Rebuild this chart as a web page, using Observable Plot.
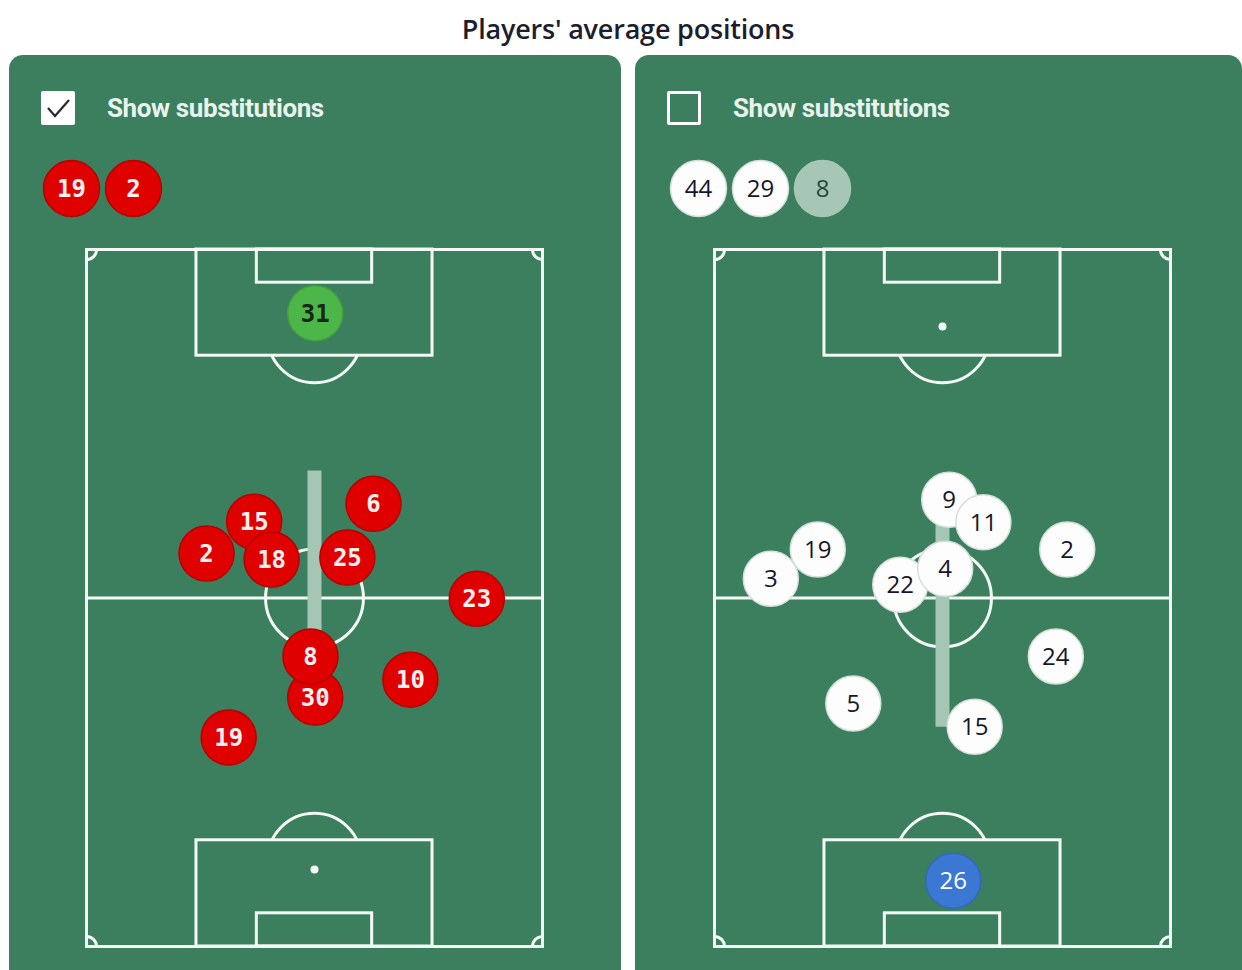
<!DOCTYPE html>
<html><head><meta charset="utf-8">
<script src="https://cdn.jsdelivr.net/npm/d3@7"></script>
<script src="https://cdn.jsdelivr.net/npm/@observablehq/plot@0.6"></script>
<style>
html,body{margin:0;padding:0;background:#fff;width:1242px;height:970px;overflow:hidden;position:relative;}
#title{position:absolute;left:0;width:1256px;top:10px;text-align:center;font:600 27px "Open Sans", sans-serif;color:#1c1d2e;letter-spacing:-0.2px;}
.panel{position:absolute;top:55px;height:940px;background:#3b7f5f;border-radius:14px;overflow:hidden;}
.cb{position:absolute;left:32px;top:36px;width:34px;height:34px;box-sizing:border-box;border-radius:2px;}
.lbl{position:absolute;left:98px;top:38px;line-height:34px;font:700 26px Roboto, sans-serif;color:#e9f3ee;letter-spacing:-0.4px;}
.subs{position:absolute;left:0;top:100px;}
.pitch{position:absolute;left:0;top:170px;}
</style></head>
<body>
<div id="title">Players' average positions</div>
<div class="panel" id="left" style="left:9px;width:612px;">
  <div class="cb" style="background:#fff;">
    <svg width="34" height="34"><path d="M7 17 L14 25 L28 9" fill="none" stroke="#2b2b2b" stroke-width="2.2"/></svg>
  </div>
  <div class="lbl">Show substitutions</div>
</div>
<div class="panel" id="right" style="left:635px;width:607px;">
  <div class="cb" style="border:3px solid #fff;"></div>
  <div class="lbl">Show substitutions</div>
</div>
<script>
// ---- data ----
const PITCH_W = 68, PITCH_L = 105;

// Left team (red), keeper 31
const leftNumbers = ["31","6","15","2","18","25","23","30","8","10","19"];
const leftX       = [34.1, 42.8, 25.0, 17.9, 27.6, 38.9, 58.2, 34.1, 33.4, 48.3, 21.2];
const leftY       = [ 9.6, 38.3, 41.0, 45.8, 46.7, 46.4, 52.6, 67.5, 61.3, 64.8, 73.5];
const leftKeeper  = "31";
const leftSubs    = ["19","2"];
const leftArrow   = {x: 34, tail: 33.3, head: 67.5};

// Right team (white), keeper 26
const rightNumbers = ["9","11","19","3","2","22","4","24","5","15","26"];
const rightX       = [35.0, 40.1, 15.4,  8.4, 52.6, 27.7, 34.4, 50.9, 20.7, 38.8, 35.6];
const rightY       = [37.7, 41.1, 45.2, 49.6, 45.2, 50.5, 48.1, 61.3, 68.4, 71.9, 95.1];
const rightKeeper  = "26";
const rightSubs    = ["44","29","8"];
const rightSubsDim = ["8"];
const rightArrow   = {x: 34, tail: 71.9, head: 38.5};

// pitch geometry (metres)
const penaltyBoxes = [{x1:16.4, x2:51.6, y1:0, y2:16}, {x1:16.4, x2:51.6, y1:89, y2:105}];
const goalAreas    = [{x1:25.4, x2:42.6, y1:0, y2:5}, {x1:25.4, x2:42.6, y1:100, y2:105}];
const penaltyArcs  = [{x:34, y:13}, {x:34, y:92}];
const spots        = [{x:34, y:11.6}, {x:34, y:93.4}];
const corners      = [{x:0,y:0},{x:PITCH_W,y:0},{x:0,y:PITCH_L},{x:PITCH_W,y:PITCH_L}];
const centre       = [{x:34, y:52.5}];
const CENTRE_R = 7.3, ARC_R = 7, CORNER_R = 1.5;

const GREEN = "#3b7f5f", LINE = "#f3faf6", BAR = "#a5c6b5";
const RED = "#df0000", RED_STROKE = "#b80000";
const LEFT_FONT = "'DejaVu Sans Mono', monospace";
const RIGHT_FONT = "'Open Sans', sans-serif";

function team(numbers, xs, ys) {
  return numbers.map((n, i) => ({n, x: xs[i], y: ys[i]}));
}

function pitchPlot({players, keeper, arrow, width, marginLeft, marginRight, side}) {
  const height = 750, marginTop = 24, marginBottom = 29;
  const pxPerM = (width - marginLeft - marginRight) / PITCH_W;
  const isLeft = side === "left";
  const fillOf = d => d.n === keeper ? (isLeft ? "#4db648" : "#3a78d4") : (isLeft ? RED : "#fdfdfd");
  const strokeOf = d => d.n === keeper ? (isLeft ? "#43a03f" : "#3169bd") : (isLeft ? RED_STROKE : "#d5e0da");
  const textOf = d => d.n === keeper ? (isLeft ? "#17261a" : "#ffffff") : (isLeft ? "#fff0f0" : "#16162b");
  return Plot.plot({
    width, height, marginTop, marginBottom, marginLeft, marginRight,
    x: {domain: [0, PITCH_W], axis: null},
    y: {domain: [0, PITCH_L], reverse: true, axis: null},
    style: {background: "transparent", overflow: "visible"},
    marks: [
      Plot.ruleY([PITCH_L / 2], {x1: 0, x2: PITCH_W, stroke: LINE, strokeWidth: 3}),
      Plot.dot(centre, {x: "x", y: "y", r: CENTRE_R * pxPerM, stroke: LINE, strokeWidth: 3, fill: "none"}),
      Plot.dot(penaltyArcs, {x: "x", y: "y", r: ARC_R * pxPerM, stroke: LINE, strokeWidth: 3, fill: "none"}),
      Plot.rect(penaltyBoxes, {x1: "x1", x2: "x2", y1: "y1", y2: "y2", fill: GREEN, stroke: LINE, strokeWidth: 3}),
      Plot.rect(goalAreas, {x1: "x1", x2: "x2", y1: "y1", y2: "y2", fill: "none", stroke: LINE, strokeWidth: 3}),
      Plot.dot(spots, {x: "x", y: "y", r: 4, fill: LINE}),
      Plot.dot(corners, {x: "x", y: "y", r: CORNER_R * pxPerM, stroke: LINE, strokeWidth: 3, fill: "none", clip: true}),
      Plot.frame({stroke: LINE, strokeWidth: 3}),
      Plot.link([arrow], {x1: "x", x2: "x", y1: "tail", y2: d => d.head + (d.head > d.tail ? -2 : 2), stroke: BAR, strokeWidth: 14, strokeLinecap: "butt"}),
      Plot.dot([arrow], {x: "x", y: "head", symbol: "triangle", r: 13, fill: BAR, rotate: d => d.head > d.tail ? 180 : 0}),
      Plot.dot(players, {x: "x", y: "y", r: 27.5, fill: fillOf, stroke: strokeOf, strokeWidth: 1.5}),
      Plot.text(players, {x: "x", y: "y", text: "n", fill: textOf, fontSize: 24,
        fontWeight: isLeft ? 700 : 500, fontFamily: isLeft ? LEFT_FONT : RIGHT_FONT, dy: 1})
    ]
  });
}

function subsPlot(subs, side, dim = []) {
  const isLeft = side === "left";
  const data = subs.map(n => ({n}));
  return Plot.plot({
    width: 320, height: 66, margin: 0,
    x: {type: "point", domain: subs, range: [62, 62 + 62.5 * (subs.length - 1)], padding: 0, axis: null},
    style: {background: "transparent", overflow: "visible"},
    marks: [
      Plot.dot(data, {x: "n", r: 28,
        fill: d => isLeft ? RED : (dim.includes(d.n) ? "#a7c7b6" : "#fdfdfd"),
        stroke: d => isLeft ? RED_STROKE : (dim.includes(d.n) ? "#a7c7b6" : "#d5e0da"), strokeWidth: 1.5}),
      Plot.text(data, {x: "n", text: "n", fontSize: 24, dy: 1,
        fill: d => isLeft ? "#fff0f0" : (dim.includes(d.n) ? "#27473a" : "#16162b"),
        fontWeight: isLeft ? 700 : 500, fontFamily: isLeft ? LEFT_FONT : RIGHT_FONT})
    ]
  });
}

function mount(panelId, node, cls) {
  node.classList.add(cls);
  document.getElementById(panelId).appendChild(node);
}

mount("left", subsPlot(leftSubs, "left"), "subs");
mount("right", subsPlot(rightSubs, "right", rightSubsDim), "subs");
mount("left", pitchPlot({players: team(leftNumbers, leftX, leftY), keeper: leftKeeper, arrow: leftArrow,
  width: 612, marginLeft: 77, marginRight: 79, side: "left"}), "pitch");
mount("right", pitchPlot({players: team(rightNumbers, rightX, rightY), keeper: rightKeeper, arrow: rightArrow,
  width: 607, marginLeft: 79, marginRight: 72, side: "right"}), "pitch");
</script>
</body></html>
